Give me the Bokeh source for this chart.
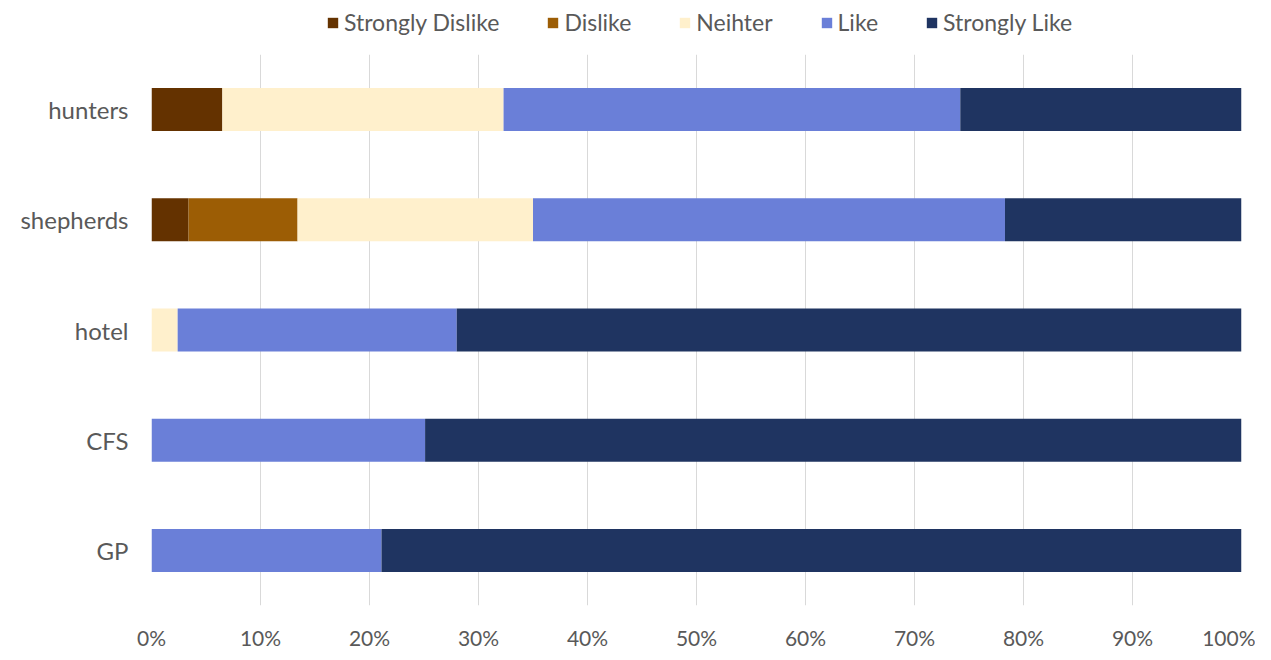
from bokeh.plotting import figure
from bokeh.layouts import column
from bokeh.models import FactorRange, NumeralTickFormatter, Legend, FixedTicker
from bokeh.embed import file_html
from bokeh.resources import INLINE

groups = ["hunters", "shepherds", "hotel", "CFS", "GP"]
series = ["Strongly Dislike", "Dislike", "Neihter", "Like", "Strongly Like"]
strongly_dislike = [0.065, 0.034, 0.0, 0.0, 0.0]
dislike = [0.0, 0.100, 0.0, 0.0, 0.0]
neither = [0.258, 0.216, 0.024, 0.0, 0.0]
like = [0.419, 0.433, 0.256, 0.251, 0.211]
strongly_like = [0.258, 0.217, 0.720, 0.749, 0.789]
ticks = [0, 0.1, 0.2, 0.3, 0.4, 0.5, 0.6, 0.7, 0.8, 0.9, 1.0]
colors = ["#643200", "#9c5d05", "#fff0cc", "#6a7fd8", "#1f3461"]

data = {"groups": groups}
for name, vals in zip(series, [strongly_dislike, dislike, neither, like, strongly_like]):
    data[name] = vals

FONT = "Lato"
TEXT = "#595959"

# ---- main chart ----
p = figure(width=1255, height=598, output_backend="svg", toolbar_location=None,
           y_range=FactorRange(factors=list(reversed(groups))), x_range=(0, 1),
           min_border_left=151, min_border_right=14, min_border_bottom=42, min_border_top=0)

p.hbar_stack(series, y="groups", height=0.39, color=colors, source=data, line_color=None)

p.outline_line_color = None
p.ygrid.grid_line_color = None
p.xgrid.grid_line_color = "#d9d9d9"
p.xaxis.ticker = FixedTicker(ticks=ticks)
p.xaxis.formatter = NumeralTickFormatter(format="0%")
for ax in (p.xaxis, p.yaxis):
    ax.axis_line_color = None
    ax.major_tick_line_color = None
    ax.minor_tick_line_color = None
    ax.major_label_text_font = FONT
    ax.major_label_text_color = TEXT
p.xaxis.major_label_text_font_size = "21px"
p.yaxis.major_label_text_font_size = "24px"
p.xaxis.major_label_standoff = 13
p.yaxis.major_label_standoff = 17

# ---- legend strip (same stacked bars, hidden; only their legend entries show) ----
lf = figure(width=1255, height=54, output_backend="svg", toolbar_location=None,
            x_range=(0, 1), y_range=FactorRange(factors=list(reversed(groups))),
            min_border=0)
lf.axis.visible = False
lf.grid.grid_line_color = None
lf.outline_line_color = None
legend_renderers = lf.hbar_stack(series, y="groups", height=0.39, color=colors,
                                 source=data, line_color=None)
for r in legend_renderers:
    r.visible = False
legend = Legend(items=[(s, [r]) for s, r in zip(series, legend_renderers)],
                orientation="horizontal", location=(175, 18),
                label_text_font=FONT, label_text_font_size="23px", label_text_color=TEXT,
                glyph_width=13, glyph_height=13, spacing=47, label_standoff=5,
                border_line_color=None, background_fill_alpha=0, padding=2, margin=0)
lf.add_layout(legend, "center")

layout = column(lf, p, spacing=0)
open("out.html", "w").write(file_html(layout, INLINE))
